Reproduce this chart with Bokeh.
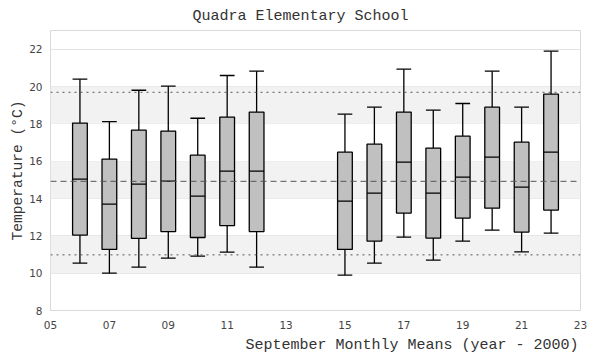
import numpy as np
from bokeh.plotting import figure
from bokeh.models import FixedTicker, Span, Title, BoxAnnotation
from bokeh.embed import file_html
from bokeh.resources import INLINE

# ---- data ----
years   = [6, 7, 8, 9, 10, 11, 12, 15, 16, 17, 18, 19, 20, 21, 22]
w_low   = [10.54, 10.0, 10.32, 10.81, 10.91, 11.13, 10.32, 9.89, 10.54, 11.93, 10.70, 11.72, 12.31, 11.14, 12.14]
q1      = [12.04, 11.27, 11.86, 12.23, 11.91, 12.55, 12.23, 11.27, 11.72, 13.22, 11.88, 12.95, 13.48, 12.20, 13.38]
medians = [15.04, 13.70, 14.77, 14.93, 14.13, 15.47, 15.47, 13.86, 14.29, 15.95, 14.29, 15.14, 16.22, 14.61, 16.48]
q3      = [18.04, 16.11, 17.66, 17.61, 16.32, 18.36, 18.63, 16.48, 16.91, 18.63, 16.70, 17.34, 18.89, 17.02, 19.59]
w_high  = [20.39, 18.12, 19.80, 20.02, 18.30, 20.59, 20.82, 18.52, 18.89, 20.93, 18.73, 19.09, 20.82, 18.89, 21.89]

ref_upper = 19.69
ref_mean = 14.92
ref_lower = 10.98

x_ticks = [5, 7, 9, 11, 13, 15, 17, 19, 21, 23]
x_tick_labels = ["05", "07", "09", "11", "13", "15", "17", "19", "21", "23"]
y_ticks = [8, 10, 12, 14, 16, 18, 20, 22]
band_bottoms = [10, 14, 18]
band_tops = [12, 16, 20]

box_w = 0.5
MONO = "Liberation Mono"
SANS = "DejaVu Sans"
TXT = "#333333"

p = figure(width=600, height=360, x_range=(5, 23), y_range=(8, 23),
           output_backend="svg", toolbar_location=None,
           min_border_left=50, min_border_right=20, min_border_top=30, min_border_bottom=50)

p.title.text = "Quadra Elementary School"
p.title.align = "left"
p.title.offset = 142
p.title.text_font = MONO
p.title.text_font_size = "15px"
p.title.text_font_style = "normal"
p.title.text_color = TXT
p.title.standoff = 11

p.outline_line_color = "#d9d9d9"
p.background_fill_color = "white"
p.border_fill_color = "white"

# axes
for ax in (p.xaxis[0], p.yaxis[0]):
    ax.axis_line_color = None
    ax.major_tick_line_color = None
    ax.minor_tick_line_color = None
    ax.major_tick_out = 0
    ax.major_tick_in = 0
    ax.minor_tick_out = 0
    ax.major_label_text_font = SANS
    ax.major_label_text_font_size = "10.5px"
    ax.major_label_text_color = "#444444"

p.xaxis.ticker = FixedTicker(ticks=x_ticks)
p.xaxis.major_label_overrides = {t: l for t, l in zip(x_ticks, x_tick_labels)}
p.xaxis.major_label_standoff = 10

p.yaxis.ticker = FixedTicker(ticks=y_ticks)
p.yaxis.major_label_standoff = 8
p.yaxis.axis_label = "Temperature (°C)"
p.yaxis.axis_label_text_font = MONO
p.yaxis.axis_label_text_font_size = "14.6px"
p.yaxis.axis_label_text_font_style = "normal"
p.yaxis.axis_label_text_color = TXT
p.yaxis.axis_label_standoff = 0

xlab = Title(text="September Monthly Means (year - 2000)", align="right",
             text_font=MONO, text_font_size="15px", text_font_style="normal",
             text_color=TXT, standoff=7, offset=2)
p.add_layout(xlab, "below")

# grid
p.xgrid.visible = False
p.ygrid.ticker = FixedTicker(ticks=y_ticks)
p.ygrid.grid_line_color = "#e3e3e3"

for b, t in zip(band_bottoms, band_tops):
    p.add_layout(BoxAnnotation(bottom=b, top=t, fill_color="#f2f2f2", fill_alpha=1.0,
                               line_color=None, level="underlay"))

# reference lines
p.add_layout(Span(location=ref_upper, dimension="width", line_color="#555555",
                  line_width=1, line_dash="2 4"))
p.add_layout(Span(location=ref_lower, dimension="width", line_color="#555555",
                  line_width=1, line_dash="2 4"))
p.add_layout(Span(location=ref_mean, dimension="width", line_color="#555555",
                  line_width=1, line_dash="6 4"))

xs = np.array(years, dtype=float)
left = xs - box_w / 2
right = xs + box_w / 2

# whisker stems
p.segment(x0=xs, y0=w_low, x1=xs, y1=q1, line_color="black", line_width=1.3)
p.segment(x0=xs, y0=q3, x1=xs, y1=w_high, line_color="black", line_width=1.3)
# caps
p.segment(x0=left, y0=w_low, x1=right, y1=w_low, line_color="black", line_width=1.3)
p.segment(x0=left, y0=w_high, x1=right, y1=w_high, line_color="black", line_width=1.3)
# boxes
p.vbar(x=xs, width=box_w, bottom=q1, top=q3, fill_color="#c0c0c0",
       line_color="black", line_width=1.3)
# medians
p.segment(x0=left, y0=medians, x1=right, y1=medians, line_color="black", line_width=1.3)

open("out.html", "w").write(file_html(p, INLINE))
